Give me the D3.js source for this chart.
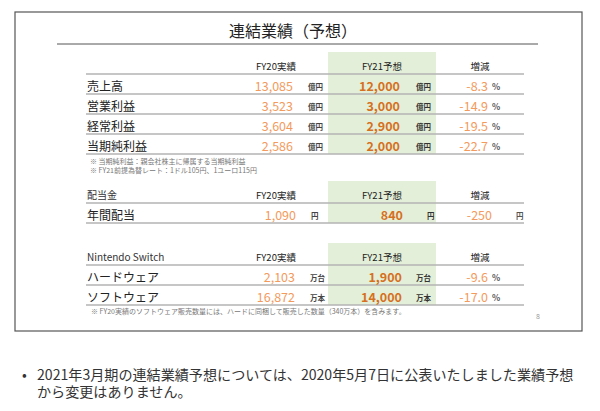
<!DOCTYPE html>
<html><head><meta charset="utf-8">
<script src="https://cdn.jsdelivr.net/npm/d3@7"></script>
<style>
html,body{margin:0;padding:0;background:#fff;}
svg{display:block;font-family:"Noto Sans CJK JP","Noto Sans",sans-serif;}
</style></head>
<body>
<svg id="c" width="600" height="411"></svg>
<script>
// ---- data ----
const title = "連結業績（予想）";
const colHeaders = ["FY20実績", "FY21予想", "増減"];

const perfLabels = ["売上高", "営業利益", "経常利益", "当期純利益"];
const perfFY20 = [13085, 3523, 3604, 2586];
const perfFY21 = [12000, 3000, 2900, 2000];
const perfChange = [-8.3, -14.9, -19.5, -22.7];
const perfUnit = "億円";
const perfNotes = ["※ 当期純利益：親会社株主に帰属する当期純利益", "※ FY21前提為替レート：1ドル105円、1ユーロ115円"];

const divSection = "配当金";
const divLabels = ["年間配当"];
const divFY20 = [1090];
const divFY21 = [840];
const divChange = [-250];
const divUnit = "円";

const swSection = "Nintendo Switch";
const swLabels = ["ハードウェア", "ソフトウェア"];
const swFY20 = [2103, 16872];
const swFY21 = [1900, 14000];
const swChange = [-9.6, -17.0];
const swUnits = ["万台", "万本"];
const swNote = "※ FY20実績のソフトウェア販売数量には、ハードに同梱して販売した数量（340万本）を含みます。";

const bullet = ["2021年3月期の連結業績予想については、2020年5月7日に公表いたしました業績予想", "から変更はありません。"];
const pageNo = "8";

// ---- drawing ----
const svg = d3.select("#c");
const fmt = d3.format(",");
const C_LIGHT = "#f39a5c", C_DARK = "#d66f1e", C_TXT = "#333", C_LINE = "#b3b3b3";

// box & title
svg.append("rect").attr("x", 15).attr("y", 12).attr("width", 567).attr("height", 319)
  .attr("fill", "none").attr("stroke", "#555").attr("stroke-width", 1.2);
svg.append("text").attr("x", 293).attr("y", 37).attr("text-anchor", "middle")
  .attr("font-size", 16).attr("fill", "#222").text(title);
svg.append("line").attr("x1", 57).attr("x2", 538).attr("y1", 44).attr("y2", 44)
  .attr("stroke", "#555").attr("stroke-width", 1);

// horizontal layout scale: columns
const x = d3.scaleOrdinal()
  .domain(["label", "v20", "u20", "h20", "v21", "u21", "h21", "vch", "uch", "hch", "greenL", "greenR", "lineR"])
  .range([87, 293, 308, 276, 400, 416, 382, 488, 492, 480, 328, 436, 524]);

function section(opts) {
  const n = opts.labels.length;
  const y = d3.scaleLinear().domain([0, 1]).range([opts.top + 14, opts.top + 14 + 20]);
  // header row at index 0, data rows 1..n
  const g = svg.append("g");
  g.append("rect").attr("x", x("greenL")).attr("width", x("greenR") - x("greenL"))
    .attr("y", opts.top).attr("height", y(n) + 8 - opts.top).attr("fill", "#e3efd9");
  if (opts.sectionTitle) {
    g.append("text").attr("x", x("label")).attr("y", y(0) + 3.5).attr("font-size", 10)
      .attr("fill", C_TXT).text(opts.sectionTitle);
  }
  ["h20", "h21", "hch"].forEach((k, i) => {
    g.append("text").attr("x", x(k) + (opts.hShift || 0)).attr("y", y(0) + 3.5).attr("text-anchor", "middle")
      .attr("font-size", 9.5).attr("fill", "#222").text(colHeaders[i]);
  });
  d3.range(n + 1).forEach(i => {
    g.append("line").attr("x1", x("label") - 1).attr("x2", x("lineR"))
      .attr("y1", y(i) + 8).attr("y2", y(i) + 8).attr("stroke", C_LINE).attr("stroke-width", 1.6);
  });
  const rows = g.selectAll("g.row").data(opts.labels).join("g").attr("class", "row")
    .attr("transform", (d, i) => `translate(0,${y(i + 1)})`);
  rows.append("text").attr("x", x("label")).attr("y", 4.5).attr("font-size", 12).attr("fill", "#222").text(d => d);
  rows.append("text").attr("x", x("v20") + (opts.vShift || 0)).attr("y", 5).attr("text-anchor", "end")
    .attr("font-size", 12.5).attr("fill", C_LIGHT).text((d, i) => fmt(opts.fy20[i]));
  rows.append("text").attr("x", x("u20") + (opts.vShift || 0)).attr("y", 4).attr("font-size", 7.5).attr("font-weight", "bold")
    .attr("fill", "#444").text((d, i) => opts.units[i]);
  rows.append("text").attr("x", x("v21") + (opts.vShift || 0)).attr("y", 5).attr("text-anchor", "end")
    .attr("font-size", 12.5).attr("font-weight", "bold").attr("fill", C_DARK).text((d, i) => fmt(opts.fy21[i]));
  rows.append("text").attr("x", x("u21") + (opts.u21Shift || 0)).attr("y", 4).attr("font-size", 7.5).attr("font-weight", "bold")
    .attr("fill", "#333").text((d, i) => opts.units[i]);
  rows.append("text").attr("x", x("vch") + (opts.chShift || 0)).attr("y", 5).attr("text-anchor", "end")
    .attr("font-size", 12.5).attr("fill", C_LIGHT)
    .text((d, i) => opts.pct ? opts.change[i].toFixed(1) : String(opts.change[i]));
  rows.append("text").attr("x", x("uch") + (opts.chUnitShift || 0)).attr("y", 4).attr("font-size", opts.pct ? 8.5 : 7.5)
    .attr("font-weight", "bold").attr("fill", "#555").text((d, i) => opts.pct ? "%" : opts.units[i]);
  return y;
}

section({top: 52, labels: perfLabels, fy20: perfFY20, fy21: perfFY21, change: perfChange,
  units: perfLabels.map(() => perfUnit), pct: true});
perfNotes.forEach((t, i) => {
  svg.append("text").attr("x", 90).attr("y", 163.5 + i * 9).attr("font-size", 7).attr("fill", "#777").text(t);
});

section({top: 181, sectionTitle: divSection, labels: divLabels, fy20: divFY20, fy21: divFY21, change: divChange,
  units: divLabels.map(() => divUnit), pct: false, vShift: 3, u21Shift: 11, chShift: 4, chUnitShift: 24});

section({top: 243, sectionTitle: swSection, labels: swLabels, fy20: swFY20, fy21: swFY21, change: swChange,
  units: swUnits, pct: true, vShift: 2});

svg.append("text").attr("x", 91).attr("y", 313.5).attr("font-size", 7).attr("fill", "#777").text(swNote);
svg.append("text").attr("x", 536).attr("y", 318.5).attr("font-size", 7).attr("fill", "#999").text(pageNo);

// bullet text (single text element, one tspan per line)
svg.append("text").attr("x", 22).attr("y", 380).attr("font-size", 14).attr("fill", "#333").text("•");
const para = svg.append("text").attr("font-size", 14.1).attr("fill", "#333");
bullet.forEach((t, i) => {
  para.append("tspan").attr("x", 37).attr("y", 380 + i * 17).text(t);
});
</script>
</body></html>
